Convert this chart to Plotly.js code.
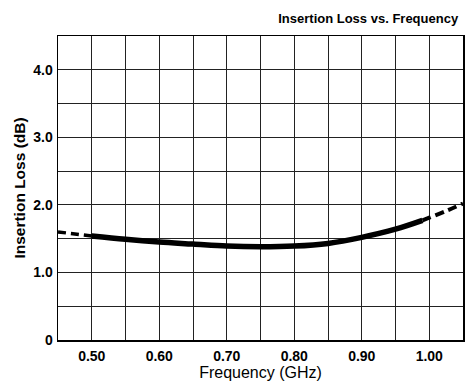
<!DOCTYPE html>
<html>
<head>
<meta charset="utf-8">
<script src="https://cdn.plot.ly/plotly-3.0.1.min.js"></script>
<style>html,body{margin:0;padding:0;background:#fff}#chart{width:468px;height:385px}</style>
</head>
<body>
<div id="chart"></div>
<script>
// Data
const freqLeftDash = [0.45, 0.475, 0.50];
const lossLeftDash = [1.60, 1.57, 1.54];
const freqSolid = [0.50, 0.55, 0.60, 0.65, 0.70, 0.75, 0.80, 0.85, 0.90, 0.95, 0.99];
const lossSolid = [1.54, 1.49, 1.45, 1.42, 1.39, 1.38, 1.39, 1.43, 1.52, 1.64, 1.77];
const freqRightDash = [0.99, 1.00, 1.025, 1.05];
const lossRightDash = [1.77, 1.81, 1.91, 2.02];
const xTickVals = [0.50, 0.60, 0.70, 0.80, 0.90, 1.00];
const xTickText = ["0.50", "0.60", "0.70", "0.80", "0.90", "1.00"];
const yTickVals = [0, 1, 2, 3, 4];
const yTickText = ["0", "1.0", "2.0", "3.0", "4.0"];

const font = "Liberation Sans, Arial, sans-serif";
const traces = [
  {x: freqLeftDash, y: lossLeftDash, mode: 'lines', line: {color: '#000', width: 3.5, dash: '8px,5px'}, hoverinfo: 'skip'},
  {x: freqSolid, y: lossSolid, mode: 'lines', line: {color: '#000', width: 5.5, shape: 'spline'}, hoverinfo: 'skip'},
  {x: freqRightDash, y: lossRightDash, mode: 'lines', line: {color: '#000', width: 4, dash: '9px,5px', shape: 'spline'}, hoverinfo: 'skip'}
];
const layout = {
  width: 468, height: 385,
  margin: {l: 58, r: 5, t: 36, b: 45},
  paper_bgcolor: '#fff', plot_bgcolor: '#fff',
  showlegend: false,
  title: {text: '<b>Insertion Loss vs. Frequency</b>', x: 0.988, xanchor: 'right', xref: 'paper', y: 0.953, yanchor: 'middle',
          font: {family: font, size: 13, color: '#000'}},
  xaxis: {
    range: [0.45, 1.05], tickvals: xTickVals, ticktext: xTickText,
    showgrid: true, gridcolor: '#222', gridwidth: 1,
    minor: {dtick: 0.05, tick0: 0.45, showgrid: true, gridcolor: '#222', gridwidth: 1},
    showline: true, linecolor: '#000', linewidth: 1.5, mirror: true,
    zeroline: false, ticks: '', ticklabelstandoff: 3,
    tickfont: {family: font, size: 14, color: '#000', weight: 'bold'},
    title: {text: 'Frequency (GHz)', font: {family: font, size: 16, color: '#000'}, standoff: 1}
  },
  yaxis: {
    range: [0, 4.5], tickvals: yTickVals, ticktext: yTickText,
    showgrid: true, gridcolor: '#222', gridwidth: 1,
    minor: {dtick: 0.5, tick0: 0, showgrid: true, gridcolor: '#222', gridwidth: 1},
    showline: true, linecolor: '#000', linewidth: 1.5, mirror: true,
    zeroline: false, ticks: '', ticklabelstandoff: 1,
    tickfont: {family: font, size: 14, color: '#000', weight: 'bold'},
    title: {text: 'Insertion Loss (dB)', font: {family: font, size: 15.5, color: '#000', weight: 'bold'}, standoff: 4}
  }
};
Plotly.newPlot('chart', traces, layout, {staticPlot: true});
</script>
</body>
</html>
